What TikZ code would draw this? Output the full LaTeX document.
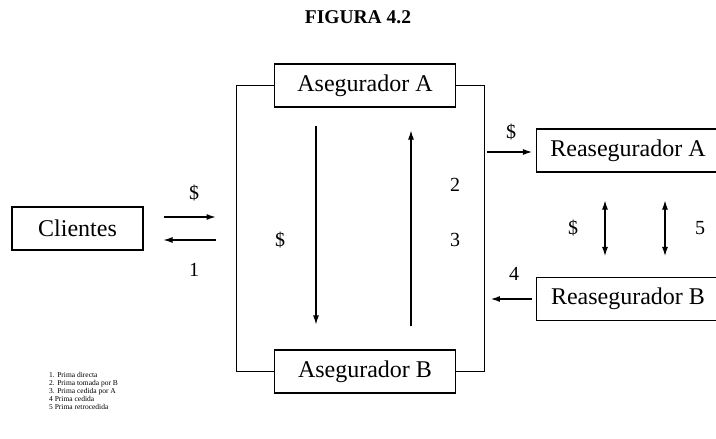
\documentclass[tikz,border=0pt]{standalone}
\usepackage{fontspec}
\setmainfont{Liberation Serif}
\usetikzlibrary{arrows.meta, positioning}

\begin{document}
\begin{tikzpicture}[x=1pt, y=-1pt,
      box/.style={rectangle, draw, line width=1.1pt, minimum height=43pt,
                  inner sep=0pt, font=\fontsize{24}{28}\selectfont},
      arr/.style={-{Latex[length=9pt,width=6pt]}, line width=1.1pt},
      arrtwo/.style={{Latex[length=9pt,width=6pt]}-{Latex[length=9pt,width=6pt]}, line width=1.1pt},
      frame/.style={line width=1.1pt},
      lbl/.style={inner sep=0pt, font=\fontsize{20}{24}\selectfont}
    ]
      \useasboundingbox (0,0) rectangle (716,439);
      \node[font=\bfseries\fontsize{19.5}{22}\selectfont] (title) at (358,17) {FIGURA 4.2};
      \node[box, minimum width=181pt] (asegA) at (365,85.5) {Asegurador A};
      \node[box, minimum width=181pt] (asegB) at (365,371.5) {Asegurador B};
      \node[box, minimum width=131pt] (cli) at (77.5,228.5) {Clientes};
      \node[box, minimum width=183pt] (reasA) at (628,150.5) {Reasegurador A};
      \node[box, minimum width=183pt] (reasB) at (628,299) {Reasegurador B};
      % marco entre aseguradores
      \draw[frame] (asegA.west) -- ++(-37.5,0) |- (asegB.west);
      \draw[frame] (asegA.east) -- ++(28.5,0) |- (asegB.east);
      \draw[arr] ([xshift=-49pt,yshift=-18pt]asegA.south) -- ([xshift=-49pt,yshift=25pt]asegB.north);
      \draw[arr] ([xshift=46pt,yshift=23pt]asegB.north) -- ([xshift=46pt,yshift=-23pt]asegA.south);
      % clientes
      \draw[arr] ([xshift=20pt,yshift=11.5pt]cli.east) -- ([xshift=72pt,yshift=11.5pt]cli.east);
      \draw[arr] ([xshift=72pt,yshift=-11.5pt]cli.east) -- ([xshift=20pt,yshift=-11.5pt]cli.east);
      % reaseguradores
      \draw[arr] ([xshift=-49pt,yshift=-1.5pt]reasA.west) -- ([xshift=-4pt,yshift=-1.5pt]reasA.west);
      \draw[arr] ([xshift=-4pt]reasB.west) -- ([xshift=-45pt]reasB.west);
      \draw[arrtwo] ([xshift=-23pt,yshift=-28pt]reasA.south) -- ([xshift=-23pt,yshift=21pt]reasB.north);
      \draw[arrtwo] ([xshift=37pt,yshift=-28pt]reasA.south) -- ([xshift=37pt,yshift=21pt]reasB.north);
      \node[lbl] (dolCli) at (194,193) {\$};
      \node[lbl] (uno) at (194,270) {1};
      \node[lbl] (dolAseg) at (280,240) {\$};
      \node[lbl] (dos) at (455,185) {2};
      \node[lbl] (tres) at (455,240) {3};
      \node[lbl] (dolReasA) at (511,132) {\$};
      \node[lbl] (cuatro) at (514,274) {4};
      \node[lbl] (dolReas) at (573,228) {\$};
      \node[lbl] (cinco) at (700,228) {5};
      \node[anchor=north west, inner sep=0pt, align=left,
            font=\fontsize{7.5}{8}\selectfont] (leyenda) at (49,372)
            {1. Prima directa\\2. Prima tomada por B\\3. Prima cedida por A\\4 Prima cedida\\5 Prima retrocedida};
    \end{tikzpicture}
\end{document}
